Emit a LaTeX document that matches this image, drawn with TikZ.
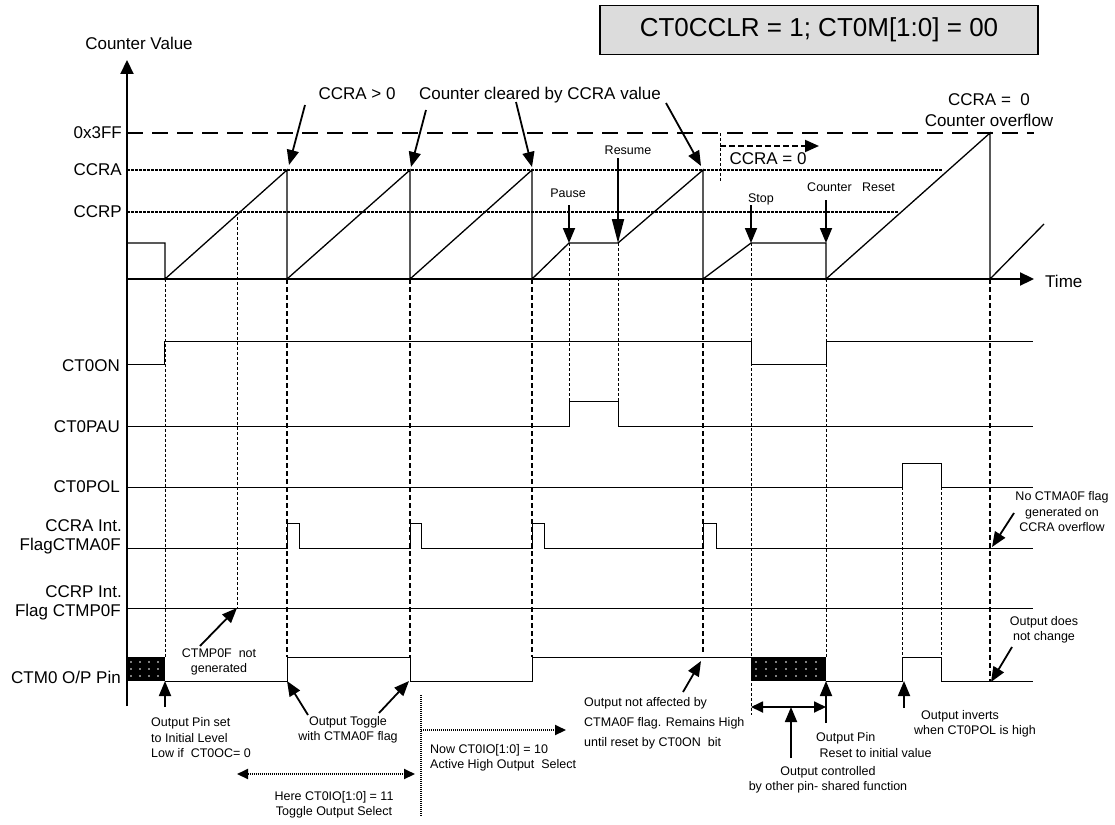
\documentclass[tikz,border=0pt]{standalone}
\usepackage{fontspec}
\setmainfont{Liberation Sans}
\usetikzlibrary{
	positioning		% relative placement
	, arrows.meta		% Triangle tips
	, calc
}
\definecolor{titlegray}{RGB}{220,220,220}
\newcommand{\bigfont}{\fontsize{17}{21}\selectfont}
\newcommand{\notefont}{\fontsize{12.5}{15.5}\selectfont}
\newcommand{\titlefont}{\fontsize{26}{30}\selectfont}

\begin{document}
\begin{tikzpicture}[x=1pt, y=-1pt
		, valueaxis/.style={line width=2.2pt, -{Triangle[length=14pt, width=13pt]}}
		, counter/.style={line width=1.3pt}
		, signal/.style={line width=1pt}
		, maxline/.style={line width=1.5pt, dash pattern=on 16pt off 9pt}
		, levelline/.style={line width=1.2pt, dash pattern=on 2.5pt off 1.5pt}
		, markline/.style={line width=0.9pt, dash pattern=on 3pt off 2pt}
		, eventline/.style={line width=1.4pt, dash pattern=on 5pt off 3pt}
		, basearrow/.style={line width=1.8pt, -{Triangle[length=15pt, width=12pt]}}
		, longarrow/.style={line width=1.8pt, -{Triangle[length=24pt, width=12pt]}}
		, dblarrow/.style={line width=1.8pt, {Triangle[length=12pt, width=11pt]}-{Triangle[length=12pt, width=11pt]}}
		, selectarrow/.style={line width=2pt, dash pattern=on 1pt off 1pt}
		, siglabel/.style={anchor=east, font=\bigfont, inner sep=0pt, align=right}
		, biglabel/.style={font=\bigfont, inner sep=0pt, align=center}
		, note/.style={font=\notefont, inner sep=0pt, align=center}]

		\useasboundingbox (0,0) rectangle (1115,824);

		%%% Title
		\node[draw, line width=1.2pt, fill=titlegray, minimum width=438pt, minimum height=49pt, font=\titlefont] (modebox) at (819,30) {CT0CCLR\ = 1; CT0M[1:0] = 00};

		%%% Axes
		\node[biglabel] (countervaluelabel) at (139,43) {Counter Value};
		\draw[valueaxis] (127,706) -- (127,60);
		\draw[valueaxis] (127,279) -- (1034,279);
		\node[biglabel, anchor=west] (timelabel) at (1045,281) {Time};

		%% Levels
		\node[siglabel] (maxlabel) at (122,133) {0x3FF};
		\node[siglabel] (ccralabel) at (122,170) {CCRA};
		\node[siglabel] (ccrplabel) at (122,212) {CCRP};
		\draw[maxline] (127,133) -- (1034,133);
		\draw[levelline] (127,170) -- (942,170);
		\draw[levelline] (127,212) -- (898,212);

		%% Counter value
		\draw[counter] (127,243) -- (165,243) -- (165,279) -- (287,170) -- (287,279)
			-- (410,170) -- (410,279) -- (532,170) -- (532,279) -- (569,243) -- (618,243)
			-- (703,170) -- (703,279) -- (751,243) -- (826,243) -- (826,279)
			-- (990,133) -- (990,279) -- (1044,224);

		%%% Signals
		\node[siglabel] (ctonlabel) at (120,366) {CT0ON};
		\node[siglabel] (ctpaulabel) at (120,427) {CT0PAU};
		\node[siglabel] (ctpollabel) at (120,487) {CT0POL};
		\node[siglabel] (ccraintlabel) at (122,526) {CCRA Int.};
		\node[siglabel] (ctmaflaglabel) at (121,546) {FlagCTMA0F};
		\node[siglabel] (ccrpintlabel) at (122,592) {CCRP Int.};
		\node[siglabel] (ctmpflaglabel) at (121,612) {Flag CTMP0F};
		\node[siglabel] (outpinlabel) at (121,677) {CTM0 O/P Pin};

		\draw[signal] (127,364) -- (164,364) -- (164,341) -- (751,341) -- (751,364) -- (826,364) -- (826,341) -- (1033,341);
		\draw[signal] (127,426) -- (569,426) -- (569,401) -- (618,401) -- (618,426) -- (1033,426);
		\draw[signal] (127,487) -- (902,487) -- (902,463) -- (941,463) -- (941,487) -- (1033,487);
		\draw[signal] (127,548) -- (287,548) -- (287,523) -- (299,523) -- (299,548)
			-- (410,548) -- (410,523) -- (421,523) -- (421,548)
			-- (532,548) -- (532,523) -- (544,523) -- (544,548)
			-- (703,548) -- (703,523) -- (716,523) -- (716,548) -- (1033,548);
		\draw[signal] (127,608) -- (1033,608);
		\draw[signal] (165,681) -- (287,681) -- (287,657) -- (410,657) -- (410,681)
			-- (532,681) -- (532,657) -- (751,657);
		\draw[signal] (826,681) -- (902,681) -- (902,657) -- (941,657) -- (941,681) -- (1033,681);

		%% Output driven elsewhere
		\fill (127,657) rectangle (165,681);
		\fill (751,657) rectangle (826,681);
		\foreach \x in {131,140,...,161} \foreach \y in {662,669,676} \fill[white] (\x,\y) circle (0.8);
		\foreach \x in {756,766,...,822} \foreach \y in {662,669,676} \fill[white] (\x,\y) circle (0.8);

		%%% Time markers
		\foreach \x/\ya/\yb in {165/279/657, 237/212/608, 569/243/401, 618/243/401, 751/243/715, 826/279/657, 902/487/657, 941/487/657} {
			\draw[markline] (\x,\ya) -- (\x,\yb);
		};
		\foreach \x/\yb in {287/657, 410/657, 532/657, 703/652, 990/682} {
			\draw[eventline] (\x,279) -- (\x,\yb);
		};

		%%% Counter annotations
		\node[biglabel] (ccragtzerolabel) at (357,94) {CCRA > 0};
		\node[biglabel] (clearedlabel) at (540,95) {Counter cleared by CCRA value};
		\coordinate (ccragtzerotail) at (305,105);
		\coordinate (peakone) at (289,165);
		\coordinate (clearedtailone) at (426,110);
		\coordinate (peaktwo) at (411,167);
		\coordinate (clearedtailtwo) at (516,102);
		\coordinate (peakthree) at (532,167);
		\coordinate (clearedtailthree) at (666,103);
		\coordinate (peakfour) at (701,166);
		\draw[basearrow] (ccragtzerotail) -- (peakone);
		\draw[basearrow] (clearedtailone) -- (peaktwo);
		\draw[basearrow] (clearedtailtwo) -- (peakthree);
		\draw[basearrow] (clearedtailthree) -- (peakfour);

		%% CCRA = 0
		\coordinate (ccrazerostart) at (720,146);
		\coordinate (ccrazeroend) at (819,146);
		\draw[markline] (720,133) -- (720,182);
		\draw[line width=2pt, dash pattern=on 6pt off 3pt, -{Triangle[length=14pt, width=12pt]}] (ccrazerostart) -- (ccrazeroend);
		\node[biglabel] (ccrazerolabel) at (768,159) {CCRA = 0};
		\node[biglabel, font=\fontsize{17}{21}\selectfont] (overflowlabel) at (989,110) {CCRA =\ \ 0\\Counter overflow};

		%% Pause, resume, stop, reset
		\node[note] (pauselabel) at (568,193) {Pause};
		\node[note] (resumelabel) at (628,150) {Resume};
		\node[note] (stoplabel) at (761,199) {Stop};
		\node[note] (resetlabel) at (851,187) {Counter\ \ \ Reset};
		\coordinate (pausetail) at (569,205);
		\coordinate (pausepoint) at (569,243);
		\coordinate (resumetail) at (618,158);
		\coordinate (resumepoint) at (618,243);
		\coordinate (stoptail) at (751,205);
		\coordinate (stoppoint) at (751,243);
		\coordinate (resettail) at (826,200);
		\coordinate (resetpoint) at (826,243);
		\draw[basearrow] (pausetail) -- (pausepoint);
		\draw[longarrow] (resumetail) -- (resumepoint);
		\draw[basearrow] (stoptail) -- (stoppoint);
		\draw[basearrow] (resettail) -- (resetpoint);

		%%% Flag annotations
		\node[note] (noflaglabel) at (1062,512) {No CTMA0F flag\\generated on\\CCRA overflow};
		\coordinate (noflagtail) at (1014,513);
		\coordinate (noflagpoint) at (992,547);
		\draw[basearrow] (noflagtail) -- (noflagpoint);

		\node[note] (notgeneratedlabel) at (219,662) {CTMP0F\ \ not\\generated};
		\coordinate (notgeneratedtail) at (200,646);
		\coordinate (notgeneratedpoint) at (237,608);
		\draw[basearrow] (notgeneratedtail) -- (notgeneratedpoint);

		%%% Output annotations
		\node[note, align=left, anchor=west] (initiallabel) at (151,738) {Output Pin set\\to Initial Level\\Low if\ \ CT0OC= 0};
		\coordinate (initialtail) at (165,707);
		\coordinate (initialpoint) at (165,681);
		\draw[basearrow] (initialtail) -- (initialpoint);

		\node[note] (togglelabel) at (348,730) {Output Toggle\\with CTMA0F flag};
		\coordinate (toggletailone) at (308,715);
		\coordinate (togglepointone) at (287,681);
		\coordinate (toggletailtwo) at (379,713);
		\coordinate (togglepointtwo) at (409,681);
		\draw[basearrow] (toggletailone) -- (togglepointone);
		\draw[basearrow] (toggletailtwo) -- (togglepointtwo);

		%% Output select ranges
		\coordinate (heredotstart) at (237,774);
		\coordinate (heredotend) at (415,774);
		\draw[selectarrow, {Triangle[length=11pt, width=10pt]}-{Triangle[length=11pt, width=10pt]}] (heredotstart) -- (heredotend);
		\node[note] (herelabel) at (334,805) {Here CT0IO[1:0] = 11\\Toggle Output Select};
		\draw[line width=1.5pt, dash pattern=on 1pt off 1pt] (421,695) -- (421,816);
		\coordinate (nowdotstart) at (421,730);
		\coordinate (nowdotend) at (566,730);
		\draw[selectarrow, -{Triangle[length=11pt, width=10pt]}] (nowdotstart) -- (nowdotend);
		\node[note, align=left, anchor=west] (nowlabel) at (430,758) {Now CT0IO[1:0] = 10\\Active High Output\ \ Select};

		\node[note, align=left, anchor=west, font=\fontsize{12.5}{20}\selectfont] (notaffectedlabel) at (584,723) {Output not affected by\\CTMA0F flag. Remains High\\until reset by CT0ON\ \ bit};
		\coordinate (notaffectedtail) at (683,692);
		\coordinate (notaffectedpoint) at (701,661);
		\draw[basearrow] (notaffectedtail) -- (notaffectedpoint);

		\coordinate (sharedleft) at (751,707);
		\coordinate (sharedright) at (826,707);
		\draw[dblarrow] (sharedleft) -- (sharedright);
		\coordinate (sharedtail) at (791,758);
		\coordinate (sharedpoint) at (791,707);
		\draw[basearrow] (sharedtail) -- (sharedpoint);
		\node[note] (sharedlabel) at (828,780) {Output controlled\\by other pin- shared function};

		\coordinate (pinresettail) at (826,723);
		\coordinate (pinresetpoint) at (826,681);
		\draw[basearrow] (pinresettail) -- (pinresetpoint);
		\node[note, align=left, anchor=west] (pinresetlabel) at (816,745) {Output Pin\\\ Reset to initial value};

		\coordinate (invertstail) at (904,708);
		\coordinate (invertspoint) at (904,681);
		\draw[basearrow] (invertstail) -- (invertspoint);
		\node[note, align=left, anchor=west] (invertslabel) at (914,724) {\ \ Output inverts\\when CT0POL is high};

		\node[note] (nochangelabel) at (1044,630) {Output does\\not change};
		\coordinate (nochangetail) at (1012,647);
		\coordinate (nochangepoint) at (991,682);
		\draw[basearrow] (nochangetail) -- (nochangepoint);
	\end{tikzpicture}
\end{document}
